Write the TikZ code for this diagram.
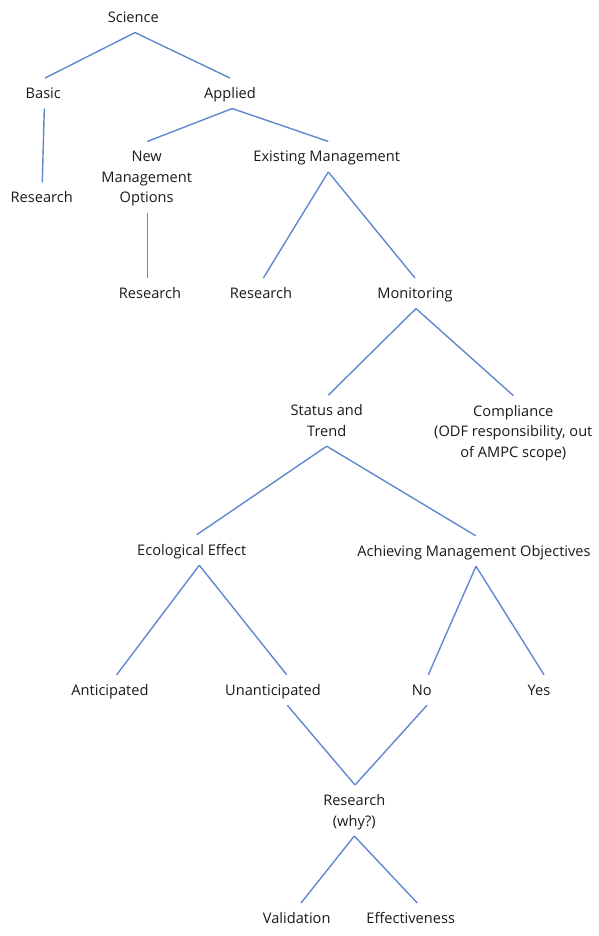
\documentclass[tikz,border=0pt]{standalone}
\usepackage{fontspec}
\setmainfont{Open Sans}
\definecolor{linkblue}{RGB}{96,136,206}
\definecolor{ink}{RGB}{25,25,25}
% struts that fix where connectors meet the labels:
% one above the first line, one below the last line
\newcommand{\topstrut}{\rule{0pt}{20.5pt}}
\newcommand{\botstrut}{\rule[-10pt]{0pt}{10pt}}
\begin{document}
\begin{tikzpicture}[x=1pt,y=-1pt,
  lbl/.style={inner sep=0pt, outer sep=0pt, align=center, text=ink,
    font=\fontsize{14.6}{20.5}\selectfont},
  link/.style={draw=linkblue, line width=1.4pt}]
\useasboundingbox (0,0) rectangle (599,936);

% labels
\node[lbl] (sci)     at (133.3,17.3)  {\topstrut Science\botstrut};
\node[lbl] (basic)   at (43.3,93.3)   {\topstrut Basic\botstrut};
\node[lbl] (applied) at (230,93.3)    {\topstrut Applied\botstrut};
\node[lbl] (resA)    at (41.7,197.7)  {\topstrut Research\botstrut};
\node[lbl] (nmo)     at (146.7,177.2) {\topstrut New\\Management\\Options\botstrut};
\node[lbl] (exist)   at (326.7,156.7) {\topstrut Existing Management\botstrut};
\node[lbl] (resB)    at (150,293.3)   {\topstrut Research\botstrut};
\node[lbl] (resC)    at (261,293.3)   {\topstrut Research\botstrut};
\node[lbl] (mon)     at (415,293.3)   {\topstrut Monitoring\botstrut};
\node[lbl] (status)  at (326.7,420.7) {\topstrut Status and\\Trend\botstrut};
\node[lbl] (comp)    at (513.3,431.3) {\topstrut Compliance\\(ODF responsibility, out\\of AMPC scope)\botstrut};
\node[lbl] (eco)     at (191.7,550)   {\topstrut Ecological Effect\botstrut};
\node[lbl] (ach)     at (474,551)     {\topstrut Achieving Management Objectives\botstrut};
\node[lbl] (ant)     at (110,690)     {\topstrut Anticipated\botstrut};
\node[lbl] (unant)   at (273,690)     {\topstrut Unanticipated\botstrut};
\node[lbl] (no)      at (421.7,690)   {\topstrut No\botstrut};
\node[lbl] (yes)     at (539,690)     {\topstrut Yes\botstrut};
\node[lbl] (why)     at (354.3,810.5) {\topstrut Research\\(why?)\botstrut};
\node[lbl] (valid)   at (296.7,918.3) {\topstrut Validation\botstrut};
\node[lbl] (effect)  at (410.7,918.3) {\topstrut Effectiveness\botstrut};

% connectors
\draw[link] ([xshift=1.7]sci.south) -- ([xshift=1.7]basic.north);
\draw[link] ([xshift=1.7]sci.south) -- (applied.north);
\draw[link] ([xshift=1]basic.south) -- ([xshift=0.6]resA.north);
\draw[link] ([xshift=2.3]applied.south) -- ([xshift=0.6]nmo.north);
\draw[link] ([xshift=2.3]applied.south) -- ([xshift=1.6]exist.north);
\draw[link] ([xshift=0.6]nmo.south) -- ([xshift=-2.7]resB.north);
\draw[link] ([xshift=1.6]exist.south) -- ([xshift=2.3]resC.north);
\draw[link] ([xshift=1.6]exist.south) -- (mon.north);
\draw[link] ([xshift=1]mon.south) -- ([xshift=1.6]status.north);
\draw[link] ([xshift=1]mon.south) -- (comp.north);
\draw[link] (status.south) -- ([xshift=5]eco.north);
\draw[link] (status.south) -- ([xshift=1.7]ach.north);
\draw[link] ([xshift=7.6]eco.south) -- ([xshift=6.7]ant.north);
\draw[link] ([xshift=7.6]eco.south) -- ([xshift=13.7]unant.north);
\draw[link] ([xshift=2]ach.south) -- ([xshift=6.6]no.north);
\draw[link] ([xshift=2]ach.south) -- ([xshift=5]yes.north);
\draw[link] ([xshift=14.3]unant.south) -- ([xshift=0.7]why.north);
\draw[link] ([xshift=5.3]no.south) -- ([xshift=0.7]why.north);
\draw[link] (why.south) -- ([xshift=4.3]valid.north);
\draw[link] (why.south) -- ([xshift=6.6]effect.north);
\end{tikzpicture}
\end{document}
